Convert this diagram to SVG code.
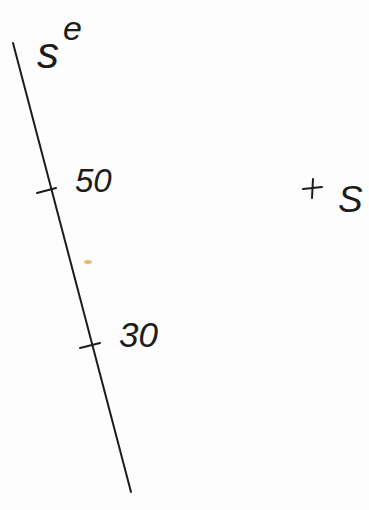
<svg xmlns="http://www.w3.org/2000/svg" width="369" height="510" viewBox="0 0 369 510">
<style>
.ink{stroke:#1c1c1c;stroke-width:2;fill:none;stroke-linecap:round}
.t{font-family:"Liberation Sans",Arial,sans-serif;font-style:italic;fill:#1c1c1c}
</style>
<rect width="369" height="510" fill="#fdfdfd"/>
<g id="axis">
<path class="ink" d="M13,43 C30,110 70,260 131,492"/>
<path class="ink" d="M37,193 L56,188"/>
<path class="ink" d="M80,348 L100,343"/>
</g>
<g id="label-se">
<text class="t" x="37" y="68" font-size="44">s</text>
<text class="t" x="63" y="40" font-size="34">e</text>
</g>
<g id="label-50"><text class="t" x="75" y="192" font-size="33">50</text></g>
<g id="label-30"><text class="t" x="119" y="347" font-size="35">30</text></g>
<g id="label-plus-s">
<path class="ink" d="M303,189 L322,187 M313,179 L312,198" stroke-width="2.5"/>
<text class="t" x="338" y="212" font-size="37">S</text>
</g>
<ellipse cx="88" cy="262" rx="4" ry="2" fill="#e0a860" opacity="0.8"/>
</svg>
